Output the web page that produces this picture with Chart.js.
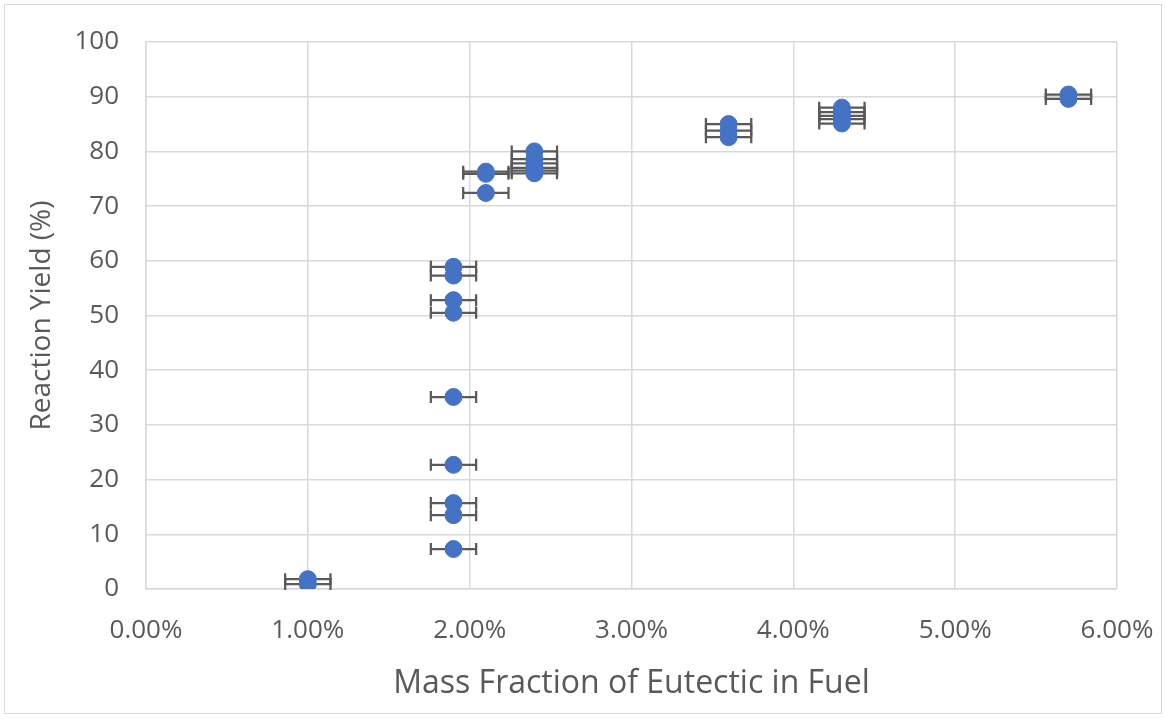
<!DOCTYPE html>
<html>
<head>
<meta charset="utf-8">
<script src="https://cdn.jsdelivr.net/npm/chart.js@4/dist/chart.umd.min.js"></script>
<style>
  html, body { margin: 0; padding: 0; background: #fff; }
  #wrap { position: absolute; left: 4px; top: 4px; width: 1158px; height: 710px; border: 1px solid #d9d9d9; box-sizing: border-box; }
  canvas { display: block; }
</style>
</head>
<body>
<div id="wrap"><canvas id="yieldChart"></canvas></div>
<script>
// mass fraction of eutectic (as fraction) and reaction yield (%) for each run
const massFraction = [
    0.010, 0.010,
    0.019, 0.019, 0.019, 0.019, 0.019, 0.019, 0.019, 0.019, 0.019,
    0.021, 0.021, 0.021,
    0.024, 0.024, 0.024, 0.024, 0.024, 0.024,
    0.036, 0.036, 0.036,
    0.043, 0.043, 0.043, 0.043, 0.043,
    0.057, 0.057
];
const reactionYield = [
    1.8, 0.9,
    58.9, 57.3, 52.8, 50.5, 35.1, 22.7, 15.7, 13.5, 7.3,
    76.3, 75.9, 72.4,
    80.0, 78.6, 77.8, 77.0, 76.5, 76.0,
    85.0, 83.8, 82.6,
    88.0, 87.2, 86.5, 85.9, 85.1,
    90.4, 89.6
];
// horizontal error (same for every run)
const xError = 0.0014;

const yTicks = [0, 10, 20, 30, 40, 50, 60, 70, 80, 90, 100];

const points = massFraction.map((x, i) => ({ x: x, y: reactionYield[i] }));

// draws horizontal error bars under the markers
const xErrorBars = {
    id: 'xErrorBars',
    beforeDatasetsDraw(chart) {
        const ctx = chart.ctx;
        const xs = chart.scales.x;
        const ys = chart.scales.y;
        ctx.save();
        ctx.strokeStyle = '#595959';
        ctx.lineWidth = 2.25;
        points.forEach(p => {
            const y = ys.getPixelForValue(p.y);
            const x1 = xs.getPixelForValue(p.x - xError);
            const x2 = xs.getPixelForValue(p.x + xError);
            ctx.beginPath();
            ctx.moveTo(x1, y);
            ctx.lineTo(x2, y);
            ctx.moveTo(x1, y - 6);
            ctx.lineTo(x1, y + 6);
            ctx.moveTo(x2, y - 6);
            ctx.lineTo(x2, y + 6);
            ctx.stroke();
        });
        ctx.restore();
    }
};

const ctx = document.getElementById('yieldChart').getContext('2d');
new Chart(ctx, {
    type: 'scatter',
    data: {
        datasets: [{
            data: points,
            backgroundColor: '#4472C4',
            borderColor: '#4472C4',
            pointRadius: 8.5,
            pointHoverRadius: 8.5
        }]
    },
    options: {
        responsive: true,
        maintainAspectRatio: false,
        animation: false,
        layout: { padding: { top: 37, right: 44, left: 0, bottom: 0 } },
        plugins: {
            legend: { display: false },
            tooltip: { enabled: false }
        },
        scales: {
            x: {
                type: 'linear',
                min: 0,
                max: 0.06,
                afterFit: axis => {
                    axis.height = 124;
                    axis.paddingLeft = 0;
                    axis.paddingRight = 0;
                },
                ticks: {
                    stepSize: 0.01,
                    color: '#595959',
                    font: { family: 'Open Sans', size: 26 },
                    padding: 26,
                    maxRotation: 0,
                    callback: v => (v * 100).toFixed(2) + '%'
                },
                grid: { color: '#d9d9d9', lineWidth: 1.5, drawTicks: false },
                border: { color: '#d9d9d9', width: 1.5 },
                title: {
                    display: true,
                    text: 'Mass Fraction of Eutectic in Fuel',
                    color: '#595959',
                    font: { family: 'Open Sans', size: 32 },
                    padding: { top: 0, bottom: 10 }
                }
            },
            y: {
                min: 0,
                max: 100,
                afterFit: axis => {
                    axis.width = 141;
                    axis.paddingTop = 0;
                    axis.paddingBottom = 0;
                },
                afterBuildTicks: axis => { axis.ticks = yTicks.map(v => ({ value: v })); },
                ticks: {
                    color: '#595959',
                    font: { family: 'Open Sans', size: 26 },
                    padding: 27
                },
                grid: { color: '#d9d9d9', lineWidth: 1.5, drawTicks: false },
                border: { color: '#d9d9d9', width: 1.5 },
                title: {
                    display: true,
                    text: 'Reaction Yield (%)',
                    color: '#595959',
                    font: { family: 'Open Sans', size: 28 },
                    padding: { top: 20, bottom: 0 }
                }
            }
        }
    },
    plugins: [xErrorBars]
});
</script>
</body>
</html>
